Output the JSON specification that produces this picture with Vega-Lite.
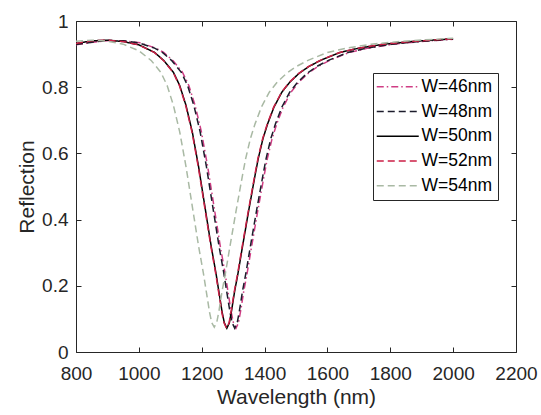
{
  "$schema": "https://vega.github.io/schema/vega-lite/v6.json",
  "width": 440,
  "height": 331,
  "autosize": {"type": "none"},
  "padding": {"left": 76, "top": 21, "right": 25, "bottom": 63},
  "background": "white",
  "config": {
    "view": {"stroke": null},
    "font": "Liberation Sans",
    "axis": {
      "grid": false,
      "domainColor": "#262626",
      "domainWidth": 1,
      "tickColor": "#262626",
      "tickSize": -5,
      "tickWidth": 1,
      "labelColor": "#262626",
      "titleColor": "#262626",
      "labelFont": "Liberation Sans",
      "titleFont": "Liberation Sans",
      "labelFontSize": 19,
      "titleFontSize": 21,
      "titleFontWeight": "normal",
      "labelOverlap": false,
      "labelFlush": false
    },
    "legend": {
      "labelFont": "Liberation Sans",
      "labelFontSize": 17.5,
      "labelColor": "#000000",
      "fillColor": "white",
      "strokeColor": "#262626",
      "padding": 5,
      "rowPadding": 5.75,
      "symbolType": "M-3,0H3",
      "symbolSize": 196,
      "symbolStrokeWidth": 1.5,
      "symbolOffset": 11,
      "labelOffset": 15
    }
  },
  "datasets": {
    "curves": [
      {"W": "W=46nm", "wl": 800, "R": 0.928}, {"W": "W=46nm", "wl": 854, "R": 0.936}, {"W": "W=46nm", "wl": 904, "R": 0.941}, {"W": "W=46nm", "wl": 954, "R": 0.940}, {"W": "W=46nm", "wl": 1004, "R": 0.934}, {"W": "W=46nm", "wl": 1054, "R": 0.918}, {"W": "W=46nm", "wl": 1079, "R": 0.905}, {"W": "W=46nm", "wl": 1109, "R": 0.880}, {"W": "W=46nm", "wl": 1139, "R": 0.845}, {"W": "W=46nm", "wl": 1159, "R": 0.805}, {"W": "W=46nm", "wl": 1179, "R": 0.745}, {"W": "W=46nm", "wl": 1199, "R": 0.665}, {"W": "W=46nm", "wl": 1219, "R": 0.560}, {"W": "W=46nm", "wl": 1239, "R": 0.440}, {"W": "W=46nm", "wl": 1259, "R": 0.320}, {"W": "W=46nm", "wl": 1274, "R": 0.240}, {"W": "W=46nm", "wl": 1284, "R": 0.180}, {"W": "W=46nm", "wl": 1294, "R": 0.120}, {"W": "W=46nm", "wl": 1301, "R": 0.088}, {"W": "W=46nm", "wl": 1309, "R": 0.072}, {"W": "W=46nm", "wl": 1317, "R": 0.088}, {"W": "W=46nm", "wl": 1324, "R": 0.125}, {"W": "W=46nm", "wl": 1334, "R": 0.185}, {"W": "W=46nm", "wl": 1344, "R": 0.235}, {"W": "W=46nm", "wl": 1359, "R": 0.320}, {"W": "W=46nm", "wl": 1379, "R": 0.430}, {"W": "W=46nm", "wl": 1399, "R": 0.535}, {"W": "W=46nm", "wl": 1409, "R": 0.585}, {"W": "W=46nm", "wl": 1424, "R": 0.645}, {"W": "W=46nm", "wl": 1439, "R": 0.690}, {"W": "W=46nm", "wl": 1459, "R": 0.740}, {"W": "W=46nm", "wl": 1484, "R": 0.785}, {"W": "W=46nm", "wl": 1509, "R": 0.815}, {"W": "W=46nm", "wl": 1539, "R": 0.842}, {"W": "W=46nm", "wl": 1569, "R": 0.862}, {"W": "W=46nm", "wl": 1609, "R": 0.882}, {"W": "W=46nm", "wl": 1669, "R": 0.905}, {"W": "W=46nm", "wl": 1729, "R": 0.918}, {"W": "W=46nm", "wl": 1809, "R": 0.930}, {"W": "W=46nm", "wl": 1909, "R": 0.939}, {"W": "W=46nm", "wl": 2000, "R": 0.945},

      {"W": "W=48nm", "wl": 800, "R": 0.929}, {"W": "W=48nm", "wl": 850, "R": 0.936}, {"W": "W=48nm", "wl": 900, "R": 0.941}, {"W": "W=48nm", "wl": 950, "R": 0.940}, {"W": "W=48nm", "wl": 1000, "R": 0.934}, {"W": "W=48nm", "wl": 1050, "R": 0.918}, {"W": "W=48nm", "wl": 1075, "R": 0.905}, {"W": "W=48nm", "wl": 1105, "R": 0.880}, {"W": "W=48nm", "wl": 1135, "R": 0.845}, {"W": "W=48nm", "wl": 1155, "R": 0.805}, {"W": "W=48nm", "wl": 1175, "R": 0.745}, {"W": "W=48nm", "wl": 1195, "R": 0.665}, {"W": "W=48nm", "wl": 1215, "R": 0.560}, {"W": "W=48nm", "wl": 1235, "R": 0.440}, {"W": "W=48nm", "wl": 1255, "R": 0.320}, {"W": "W=48nm", "wl": 1270, "R": 0.240}, {"W": "W=48nm", "wl": 1280, "R": 0.180}, {"W": "W=48nm", "wl": 1290, "R": 0.120}, {"W": "W=48nm", "wl": 1297, "R": 0.088}, {"W": "W=48nm", "wl": 1305, "R": 0.072}, {"W": "W=48nm", "wl": 1313, "R": 0.088}, {"W": "W=48nm", "wl": 1320, "R": 0.125}, {"W": "W=48nm", "wl": 1330, "R": 0.185}, {"W": "W=48nm", "wl": 1340, "R": 0.235}, {"W": "W=48nm", "wl": 1355, "R": 0.320}, {"W": "W=48nm", "wl": 1375, "R": 0.430}, {"W": "W=48nm", "wl": 1395, "R": 0.535}, {"W": "W=48nm", "wl": 1405, "R": 0.585}, {"W": "W=48nm", "wl": 1420, "R": 0.645}, {"W": "W=48nm", "wl": 1435, "R": 0.690}, {"W": "W=48nm", "wl": 1455, "R": 0.740}, {"W": "W=48nm", "wl": 1480, "R": 0.785}, {"W": "W=48nm", "wl": 1505, "R": 0.815}, {"W": "W=48nm", "wl": 1535, "R": 0.842}, {"W": "W=48nm", "wl": 1565, "R": 0.862}, {"W": "W=48nm", "wl": 1605, "R": 0.882}, {"W": "W=48nm", "wl": 1665, "R": 0.905}, {"W": "W=48nm", "wl": 1725, "R": 0.918}, {"W": "W=48nm", "wl": 1805, "R": 0.930}, {"W": "W=48nm", "wl": 1905, "R": 0.939}, {"W": "W=48nm", "wl": 2000, "R": 0.9455},

      {"W": "W=50nm", "wl": 800, "R": 0.932}, {"W": "W=50nm", "wl": 850, "R": 0.940}, {"W": "W=50nm", "wl": 900, "R": 0.942}, {"W": "W=50nm", "wl": 950, "R": 0.938}, {"W": "W=50nm", "wl": 1000, "R": 0.928}, {"W": "W=50nm", "wl": 1050, "R": 0.905}, {"W": "W=50nm", "wl": 1080, "R": 0.880}, {"W": "W=50nm", "wl": 1110, "R": 0.845}, {"W": "W=50nm", "wl": 1130, "R": 0.805}, {"W": "W=50nm", "wl": 1150, "R": 0.745}, {"W": "W=50nm", "wl": 1170, "R": 0.665}, {"W": "W=50nm", "wl": 1190, "R": 0.560}, {"W": "W=50nm", "wl": 1210, "R": 0.440}, {"W": "W=50nm", "wl": 1230, "R": 0.320}, {"W": "W=50nm", "wl": 1245, "R": 0.240}, {"W": "W=50nm", "wl": 1255, "R": 0.180}, {"W": "W=50nm", "wl": 1265, "R": 0.120}, {"W": "W=50nm", "wl": 1272, "R": 0.088}, {"W": "W=50nm", "wl": 1280, "R": 0.072}, {"W": "W=50nm", "wl": 1288, "R": 0.088}, {"W": "W=50nm", "wl": 1295, "R": 0.125}, {"W": "W=50nm", "wl": 1305, "R": 0.185}, {"W": "W=50nm", "wl": 1315, "R": 0.235}, {"W": "W=50nm", "wl": 1330, "R": 0.320}, {"W": "W=50nm", "wl": 1350, "R": 0.430}, {"W": "W=50nm", "wl": 1370, "R": 0.535}, {"W": "W=50nm", "wl": 1380, "R": 0.585}, {"W": "W=50nm", "wl": 1395, "R": 0.645}, {"W": "W=50nm", "wl": 1410, "R": 0.690}, {"W": "W=50nm", "wl": 1430, "R": 0.740}, {"W": "W=50nm", "wl": 1455, "R": 0.785}, {"W": "W=50nm", "wl": 1480, "R": 0.815}, {"W": "W=50nm", "wl": 1510, "R": 0.842}, {"W": "W=50nm", "wl": 1540, "R": 0.862}, {"W": "W=50nm", "wl": 1580, "R": 0.882}, {"W": "W=50nm", "wl": 1640, "R": 0.905}, {"W": "W=50nm", "wl": 1700, "R": 0.918}, {"W": "W=50nm", "wl": 1780, "R": 0.930}, {"W": "W=50nm", "wl": 1880, "R": 0.939}, {"W": "W=50nm", "wl": 2000, "R": 0.946},

      {"W": "W=52nm", "wl": 800, "R": 0.932}, {"W": "W=52nm", "wl": 849, "R": 0.940}, {"W": "W=52nm", "wl": 899, "R": 0.942}, {"W": "W=52nm", "wl": 949, "R": 0.938}, {"W": "W=52nm", "wl": 999, "R": 0.928}, {"W": "W=52nm", "wl": 1049, "R": 0.905}, {"W": "W=52nm", "wl": 1079, "R": 0.880}, {"W": "W=52nm", "wl": 1109, "R": 0.845}, {"W": "W=52nm", "wl": 1129, "R": 0.805}, {"W": "W=52nm", "wl": 1149, "R": 0.745}, {"W": "W=52nm", "wl": 1169, "R": 0.665}, {"W": "W=52nm", "wl": 1189, "R": 0.560}, {"W": "W=52nm", "wl": 1209, "R": 0.440}, {"W": "W=52nm", "wl": 1229, "R": 0.320}, {"W": "W=52nm", "wl": 1244, "R": 0.240}, {"W": "W=52nm", "wl": 1254, "R": 0.180}, {"W": "W=52nm", "wl": 1264, "R": 0.120}, {"W": "W=52nm", "wl": 1271, "R": 0.088}, {"W": "W=52nm", "wl": 1279, "R": 0.072}, {"W": "W=52nm", "wl": 1287, "R": 0.088}, {"W": "W=52nm", "wl": 1294, "R": 0.125}, {"W": "W=52nm", "wl": 1304, "R": 0.185}, {"W": "W=52nm", "wl": 1314, "R": 0.235}, {"W": "W=52nm", "wl": 1329, "R": 0.320}, {"W": "W=52nm", "wl": 1349, "R": 0.430}, {"W": "W=52nm", "wl": 1369, "R": 0.535}, {"W": "W=52nm", "wl": 1379, "R": 0.585}, {"W": "W=52nm", "wl": 1394, "R": 0.645}, {"W": "W=52nm", "wl": 1409, "R": 0.690}, {"W": "W=52nm", "wl": 1429, "R": 0.740}, {"W": "W=52nm", "wl": 1454, "R": 0.785}, {"W": "W=52nm", "wl": 1479, "R": 0.815}, {"W": "W=52nm", "wl": 1509, "R": 0.842}, {"W": "W=52nm", "wl": 1539, "R": 0.862}, {"W": "W=52nm", "wl": 1579, "R": 0.882}, {"W": "W=52nm", "wl": 1639, "R": 0.905}, {"W": "W=52nm", "wl": 1699, "R": 0.918}, {"W": "W=52nm", "wl": 1779, "R": 0.930}, {"W": "W=52nm", "wl": 1879, "R": 0.939}, {"W": "W=52nm", "wl": 2000, "R": 0.946},

      {"W": "W=54nm", "wl": 800, "R": 0.939}, {"W": "W=54nm", "wl": 850, "R": 0.942}, {"W": "W=54nm", "wl": 900, "R": 0.939}, {"W": "W=54nm", "wl": 950, "R": 0.930}, {"W": "W=54nm", "wl": 1000, "R": 0.910}, {"W": "W=54nm", "wl": 1040, "R": 0.880}, {"W": "W=54nm", "wl": 1070, "R": 0.845}, {"W": "W=54nm", "wl": 1090, "R": 0.805}, {"W": "W=54nm", "wl": 1110, "R": 0.745}, {"W": "W=54nm", "wl": 1130, "R": 0.665}, {"W": "W=54nm", "wl": 1150, "R": 0.560}, {"W": "W=54nm", "wl": 1170, "R": 0.440}, {"W": "W=54nm", "wl": 1190, "R": 0.320}, {"W": "W=54nm", "wl": 1205, "R": 0.240}, {"W": "W=54nm", "wl": 1215, "R": 0.180}, {"W": "W=54nm", "wl": 1225, "R": 0.120}, {"W": "W=54nm", "wl": 1232, "R": 0.088}, {"W": "W=54nm", "wl": 1240, "R": 0.075}, {"W": "W=54nm", "wl": 1248, "R": 0.090}, {"W": "W=54nm", "wl": 1255, "R": 0.125}, {"W": "W=54nm", "wl": 1265, "R": 0.185}, {"W": "W=54nm", "wl": 1275, "R": 0.235}, {"W": "W=54nm", "wl": 1290, "R": 0.320}, {"W": "W=54nm", "wl": 1310, "R": 0.430}, {"W": "W=54nm", "wl": 1330, "R": 0.535}, {"W": "W=54nm", "wl": 1340, "R": 0.585}, {"W": "W=54nm", "wl": 1355, "R": 0.645}, {"W": "W=54nm", "wl": 1370, "R": 0.690}, {"W": "W=54nm", "wl": 1390, "R": 0.740}, {"W": "W=54nm", "wl": 1415, "R": 0.785}, {"W": "W=54nm", "wl": 1440, "R": 0.815}, {"W": "W=54nm", "wl": 1470, "R": 0.842}, {"W": "W=54nm", "wl": 1500, "R": 0.862}, {"W": "W=54nm", "wl": 1540, "R": 0.882}, {"W": "W=54nm", "wl": 1600, "R": 0.905}, {"W": "W=54nm", "wl": 1660, "R": 0.918}, {"W": "W=54nm", "wl": 1740, "R": 0.930}, {"W": "W=54nm", "wl": 1840, "R": 0.939}, {"W": "W=54nm", "wl": 1960, "R": 0.946}, {"W": "W=54nm", "wl": 2000, "R": 0.948}
    ]
  },
  "data": {"name": "curves"},
  "layer": [
    {
      "mark": {"type": "line", "strokeWidth": 1.5, "clip": true},
      "encoding": {
        "x": {
          "field": "wl", "type": "quantitative",
          "scale": {"domain": [800, 2200], "nice": false, "zero": false},
          "axis": {
            "orient": "bottom", "values": [800, 1000, 1200, 1400, 1600, 1800, 2000, 2200],
            "format": "d", "title": "Wavelength (nm)", "labelPadding": 17.5, "titlePadding": 3
          }
        },
        "y": {
          "field": "R", "type": "quantitative",
          "scale": {"domain": [0, 1], "nice": false, "zero": false},
          "axis": {
            "orient": "left", "values": [0, 0.2, 0.4, 0.6, 0.8, 1],
            "format": "~g", "title": "Reflection", "labelPadding": 13, "titlePadding": 4
          }
        },
        "color": {
          "field": "W", "type": "nominal",
          "scale": {
            "domain": ["W=46nm", "W=48nm", "W=50nm", "W=52nm", "W=54nm"],
            "range": ["#cf3d84", "#1c1c2c", "#000000", "#cc1f45", "#a9b9a4"]
          },
          "legend": {"title": null, "orient": "none", "legendX": 297, "legendY": 52}
        },
        "strokeDash": {
          "field": "W", "type": "nominal",
          "scale": {
            "domain": ["W=46nm", "W=48nm", "W=50nm", "W=52nm", "W=54nm"],
            "range": [[7, 3, 1.5, 3], [7, 4], [1, 0], [7, 4], [7, 4]]
          },
          "legend": {"title": null, "orient": "none", "legendX": 297, "legendY": 52}
        }
      }
    },
    {
      "mark": {"type": "point", "opacity": 0},
      "encoding": {
        "x": {
          "field": "wl", "type": "quantitative",
          "axis": {"orient": "top", "values": [800, 1000, 1200, 1400, 1600, 1800, 2000, 2200], "labels": false, "title": null}
        },
        "y": {
          "field": "R", "type": "quantitative",
          "axis": {"orient": "right", "values": [0, 0.2, 0.4, 0.6, 0.8, 1], "labels": false, "title": null}
        }
      }
    }
  ],
  "resolve": {"axis": {"x": "independent", "y": "independent"}}
}
